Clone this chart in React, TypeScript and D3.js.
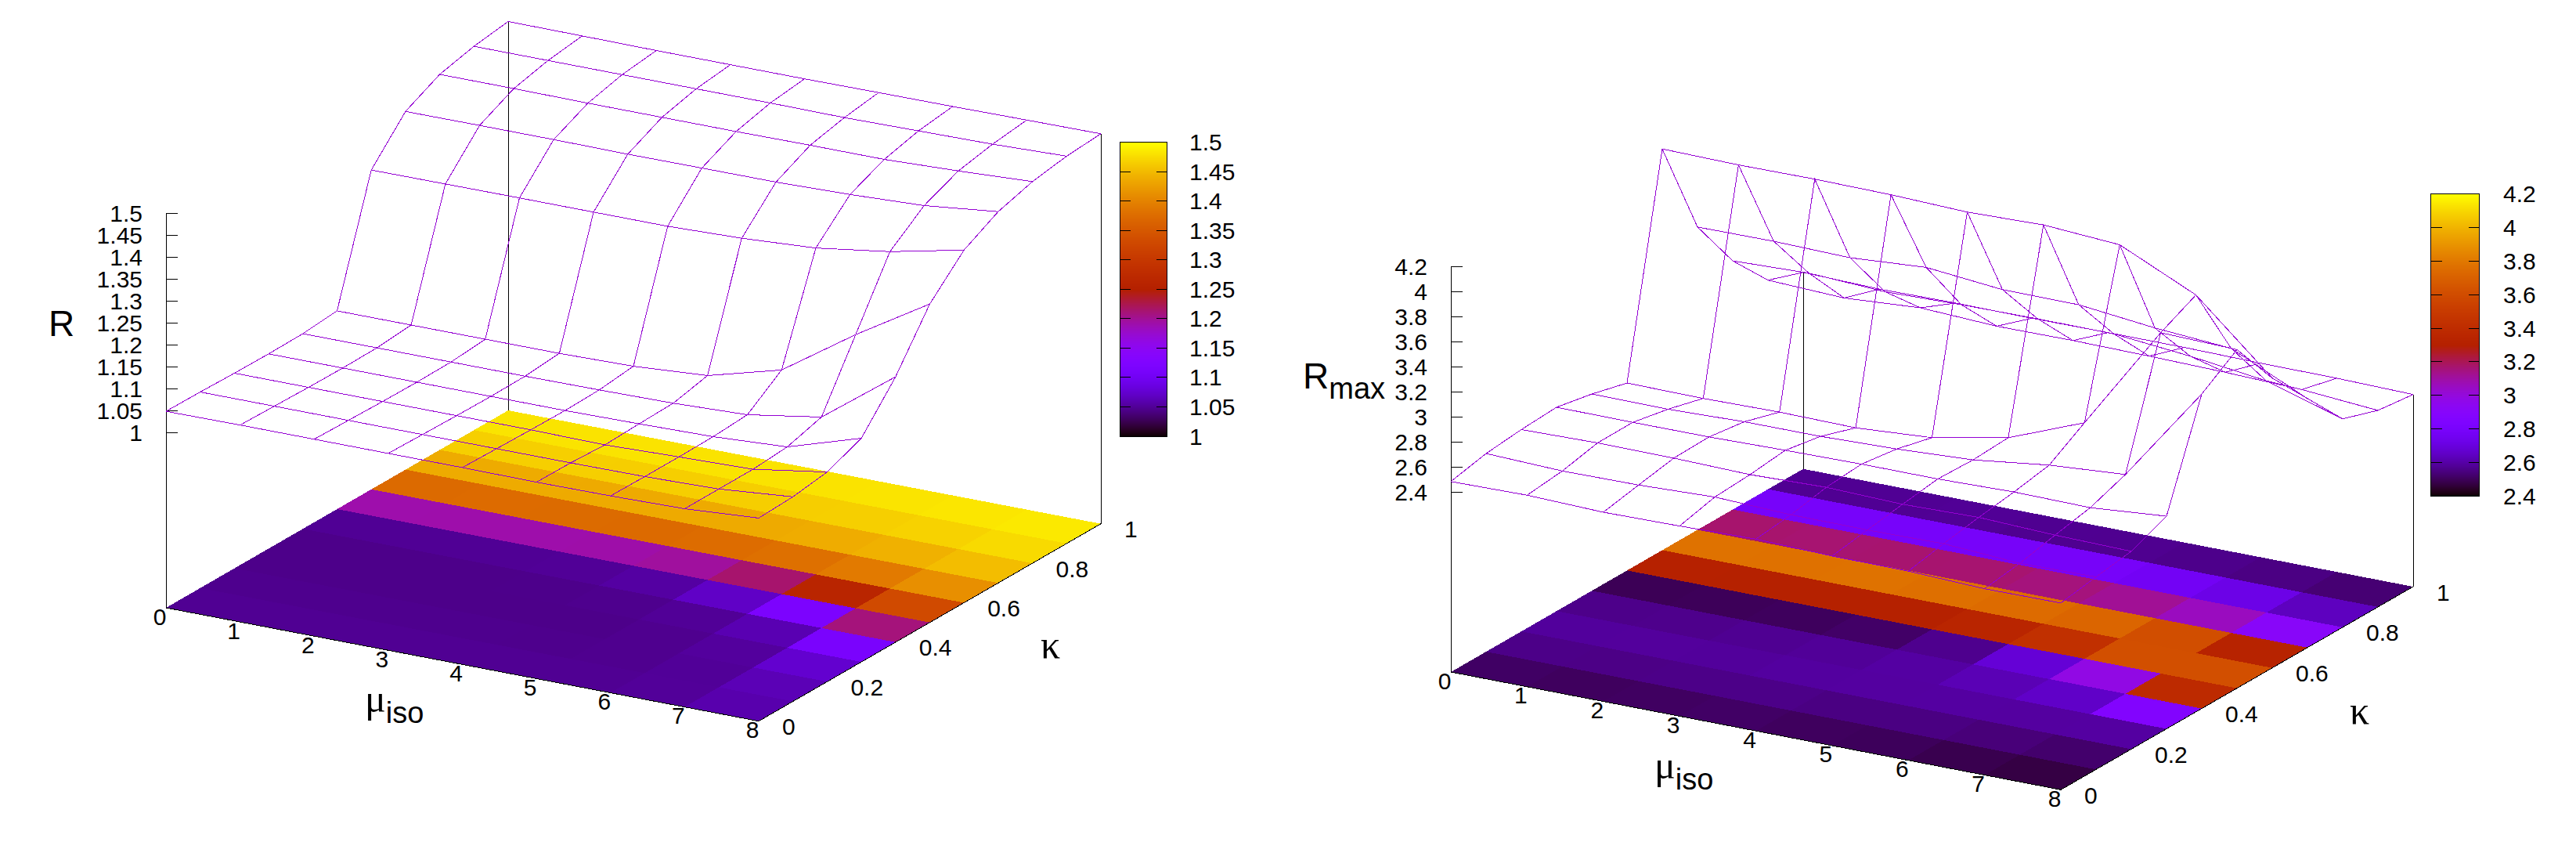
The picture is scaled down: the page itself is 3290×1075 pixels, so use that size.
// App.tsx
import React from "react";
import * as d3 from "d3";

const muValues = [0, 1, 2, 3, 4, 5, 6, 7, 8];
const kappaValues = [0, 0.1, 0.2, 0.3, 0.4, 0.5, 0.6, 0.7, 0.8, 0.9, 1];
const kappaTicks = [0, 0.2, 0.4, 0.6, 0.8, 1];

// left panel, one row per kappa, mu = 0..8
const rK00 = [1.049, 1.05, 1.05, 1.05, 1.05, 1.049, 1.05, 1.053, 1.064];
const rK01 = [1.048, 1.048, 1.048, 1.048, 1.048, 1.048, 1.049, 1.053, 1.0675];
const rK02 = [1.046, 1.046, 1.046, 1.046, 1.046, 1.044, 1.049, 1.053, 1.079];
const rK03 = [1.045, 1.045, 1.045, 1.045, 1.045, 1.047, 1.05, 1.059, 1.111];
const rK04 = [1.046, 1.046, 1.046, 1.046, 1.047, 1.049, 1.055, 1.082, 1.206];
const rK05 = [1.053, 1.053, 1.053, 1.053, 1.056, 1.067, 1.112, 1.225, 1.327];
const rK06 = [1.329, 1.3295, 1.33, 1.33, 1.33, 1.335, 1.345, 1.369, 1.405];
const rK07 = [1.4175, 1.418, 1.418, 1.417, 1.4177, 1.418, 1.422, 1.429, 1.4475];
const rK08 = [1.457, 1.457, 1.456, 1.456, 1.456, 1.457, 1.457, 1.463, 1.471];
const rK09 = [1.476, 1.476, 1.476, 1.476, 1.476, 1.475, 1.477, 1.479, 1.484];
const rK10 = [1.4875, 1.487, 1.486, 1.486, 1.486, 1.487, 1.4876, 1.489, 1.49];
const rTicks = [1, 1.05, 1.1, 1.15, 1.2, 1.25, 1.3, 1.35, 1.4, 1.45, 1.5];

// right panel
const rmaxK00 = [2.4875, 2.496, 2.4775, 2.485, 2.498, 2.48, 2.477, 2.454, 2.4575];
const rmaxK01 = [2.549, 2.527, 2.5325, 2.554, 2.53, 2.526, 2.534, 2.495, 2.504];
const rmaxK02 = [2.578, 2.589, 2.585, 2.571, 2.587, 2.569, 2.582, 2.558, 2.546];
const rmaxK03 = [2.594, 2.591, 2.592, 2.603, 2.61, 2.609, 2.6225, 2.615, 2.664];
const rmaxK04 = [2.5375, 2.534, 2.551, 2.552, 2.569, 2.599, 2.675, 2.7175, 3.477];
const rmaxK05 = [2.463, 2.458, 2.466, 2.458, 2.497, 2.614, 2.851, 3.687, 3.669];
const rmaxK06 = [4.169, 4.159, 4.163, 4.156, 4.135, 4.15, 4.109, 3.826, 3.28];
const rmaxK07 = [3.384, 3.3875, 3.374, 3.414, 3.354, 3.351, 3.283, 3.2375, 2.955];
const rmaxK08 = [2.952, 2.971, 2.94, 2.954, 2.959, 2.956, 2.896, 2.816, 2.631];
const rmaxK09 = [2.636, 2.611, 2.65, 2.621, 2.624, 2.617, 2.605, 2.585, 2.536];
const rmaxK10 = [2.536, 2.52, 2.526, 2.522, 2.525, 2.524, 2.516, 2.513, 2.501];
const rmaxTicks = [2.4, 2.6, 2.8, 3, 3.2, 3.4, 3.6, 3.8, 4, 4.2];

const WIRE = "#9400d3";
const FONT = "'Liberation Sans', Arial, sans-serif";
const SYMBOL_FONT = "'Liberation Serif', 'DejaVu Serif', serif";
const TICK_SIZE = 30;

// gnuplot's default rgbformulae 7,5,15
const palette = (t: number) => {
  const x = Math.max(0, Math.min(1, t));
  const b = Math.max(0, Math.sin(2 * Math.PI * x));
  return d3.rgb(255 * Math.sqrt(x), 255 * x * x * x, 255 * b).formatRgb();
};

const leftPanel = {
  rows: [rK00, rK01, rK02, rK03, rK04, rK05, rK06, rK07, rK08, rK09, rK10],
  ticks: rTicks,
  origin: [212, 776],
  muVec: [757, 144.7],
  kappaVec: [437, -252],
  zRange: [552.6, 272.5],
  bar: { x: 1430, y: 181.5, w: 60.5, h: 375.5, labelX: 1519 },
  label: { x: 62, y: 429 },
  muLabel: { x: 466, y: 909 },
  kappaLabel: { x: 1329, y: 840 },
};

const rightPanel = {
  rows: [rmaxK00, rmaxK01, rmaxK02, rmaxK03, rmaxK04, rmaxK05, rmaxK06, rmaxK07, rmaxK08, rmaxK09, rmaxK10],
  ticks: rmaxTicks,
  origin: [1853, 858],
  muVec: [779, 150.3],
  kappaVec: [450, -259.3],
  zRange: [628.8, 340.8],
  bar: { x: 3104.5, y: 247.5, w: 62, h: 386, labelX: 3197 },
  label: { x: 1664, y: 495.5 },
  muLabel: { x: 2113, y: 994 },
  kappaLabel: { x: 3001, y: 924 },
};

const Surface = ({ panel }: { panel: typeof leftPanel }) => {
  const { rows, ticks, origin, muVec, kappaVec, zRange, bar } = panel;
  const zDomain = d3.extent(ticks) as [number, number];

  const muX = d3.scaleLinear().domain([0, 8]).range([0, muVec[0]]);
  const muY = d3.scaleLinear().domain([0, 8]).range([0, muVec[1]]);
  const kappaX = d3.scaleLinear().domain([0, 1]).range([0, kappaVec[0]]);
  const kappaY = d3.scaleLinear().domain([0, 1]).range([0, kappaVec[1]]);
  const zScale = d3.scaleLinear().domain(zDomain).range(zRange);
  const colour = d3.scaleSequential(palette).domain(zDomain);

  const groundX = (mu: number, k: number) => origin[0] + muX(mu) + kappaX(k);
  const groundY = (mu: number, k: number) => origin[1] + muY(mu) + kappaY(k);
  const surfaceY = (mu: number, k: number, z: number) => zScale(z) + muY(mu) + kappaY(k);

  const line = d3.line<[number, number]>();

  // base heatmap, each cell takes the mean of its four corners
  const cells: { d: string; fill: string }[] = [];
  kappaValues.slice(0, -1).forEach((k, j) => {
    muValues.slice(0, -1).forEach((mu, i) => {
      const k2 = kappaValues[j + 1];
      const mu2 = muValues[i + 1];
      const mean = d3.mean([rows[j][i], rows[j][i + 1], rows[j + 1][i], rows[j + 1][i + 1]]) as number;
      const corners: [number, number][] = [
        [groundX(mu, k), groundY(mu, k)],
        [groundX(mu2, k), groundY(mu2, k)],
        [groundX(mu2, k2), groundY(mu2, k2)],
        [groundX(mu, k2), groundY(mu, k2)],
      ];
      cells.push({ d: line(corners) + "Z", fill: colour(mean) });
    });
  });

  // wire lines along mu and along kappa
  const rowLines = rows.map((row, j) =>
    line(row.map((z, i): [number, number] => [groundX(muValues[i], kappaValues[j]), surfaceY(muValues[i], kappaValues[j], z)]))
  );
  const columnLines = muValues.map((mu, i) =>
    line(kappaValues.map((k, j): [number, number] => [groundX(mu, k), surfaceY(mu, k, rows[j][i])]))
  );

  const corners: [number, number][] = [[8, 0], [8, 1], [0, 1]];
  const barScale = d3.scaleLinear().domain(zDomain).range([bar.y + bar.h, bar.y]);
  const barSteps = d3.range(0, Math.ceil(bar.h));
  const textProps = { fontFamily: FONT, fill: "#000" };

  return (
    <g>
      {/* vertical box edges, up to the surface */}
      {corners.map(([mu, k]) => {
        const i = muValues.indexOf(mu);
        const j = kappaValues.indexOf(k);
        return (
          <line
            key={`${mu}-${k}`}
            x1={groundX(mu, k)}
            x2={groundX(mu, k)}
            y1={groundY(mu, k)}
            y2={surfaceY(mu, k, rows[j][i])}
            stroke="#000"
            shapeRendering="crispEdges"
          />
        );
      })}

      <g shapeRendering="crispEdges">
        {cells.map((c, i) => (
          <path key={i} d={c.d} fill={c.fill} />
        ))}
      </g>

      {/* z axis */}
      <line x1={origin[0]} x2={origin[0]} y1={origin[1]} y2={zRange[1]} stroke="#000" shapeRendering="crispEdges" />
      {ticks.map((t) => (
        <g key={t}>
          <line x1={origin[0]} x2={origin[0] + 15} y1={zScale(t)} y2={zScale(t)} stroke="#000" shapeRendering="crispEdges" />
          <text {...textProps} x={origin[0] - 30} y={zScale(t) + 10.5} fontSize={TICK_SIZE} textAnchor="end">
            {t}
          </text>
        </g>
      ))}

      {/* front edges of the base */}
      <g stroke="#000" shapeRendering="crispEdges">
        <line x1={groundX(0, 0)} y1={groundY(0, 0)} x2={groundX(8, 0)} y2={groundY(8, 0)} />
        <line x1={groundX(8, 0)} y1={groundY(8, 0)} x2={groundX(8, 1)} y2={groundY(8, 1)} />
      </g>

      <g fill="none" stroke={WIRE} strokeWidth={1} shapeRendering="crispEdges">
        {rowLines.map((d, i) => (
          <path key={i} d={d as string} />
        ))}
        {columnLines.map((d, i) => (
          <path key={i} d={d as string} />
        ))}
      </g>

      {muValues.map((mu) => (
        <text
          key={mu}
          {...textProps}
          x={groundX(mu, 0) - 8}
          y={groundY(mu, 0) + 21.5}
          fontSize={TICK_SIZE}
          textAnchor="middle"
        >
          {mu}
        </text>
      ))}
      {kappaTicks.map((k) => (
        <text key={k} {...textProps} x={groundX(8, k) + 30} y={groundY(8, k) + 17.5} fontSize={TICK_SIZE}>
          {k}
        </text>
      ))}

      {/* colour box */}
      <g shapeRendering="crispEdges">
        {barSteps.map((s) => (
          <rect
            key={s}
            x={bar.x}
            y={bar.y + s}
            width={bar.w}
            height={1.5}
            fill={colour(barScale.invert(bar.y + s + 0.5))}
          />
        ))}
        <rect x={bar.x} y={bar.y} width={bar.w} height={bar.h} fill="none" stroke="#000" />
        {ticks.slice(1, -1).map((t) => (
          <g key={t} stroke="#000">
            <line x1={bar.x} x2={bar.x + 14} y1={barScale(t)} y2={barScale(t)} />
            <line x1={bar.x + bar.w - 14} x2={bar.x + bar.w} y1={barScale(t)} y2={barScale(t)} />
          </g>
        ))}
      </g>
      {ticks.map((t) => (
        <text key={t} {...textProps} x={bar.labelX} y={barScale(t) + 10.5} fontSize={TICK_SIZE}>
          {t}
        </text>
      ))}
    </g>
  );
};

const subProps = { fontFamily: FONT, fontSize: 38 };
const symbolProps = { fontFamily: SYMBOL_FONT, fontSize: 50 };

const App = () => (
  <svg width={3290} height={1075} style={{ position: "absolute", left: 0, top: 0, background: "#fff" }}>
    <Surface panel={leftPanel} />
    <Surface panel={rightPanel} />

    <g fontFamily={FONT} fontSize={46} fill="#000">
      <text x={leftPanel.label.x} y={leftPanel.label.y}>R</text>
      <text x={rightPanel.label.x} y={rightPanel.label.y}>
        R<tspan dy={13} {...subProps}>max</tspan>
      </text>
      <text {...symbolProps} x={leftPanel.muLabel.x} y={leftPanel.muLabel.y}>
        μ<tspan dy={14} {...subProps}>iso</tspan>
      </text>
      <text {...symbolProps} x={rightPanel.muLabel.x} y={rightPanel.muLabel.y}>
        μ<tspan dy={14} {...subProps}>iso</tspan>
      </text>
      <text {...symbolProps} x={leftPanel.kappaLabel.x} y={leftPanel.kappaLabel.y}>κ</text>
      <text {...symbolProps} x={rightPanel.kappaLabel.x} y={rightPanel.kappaLabel.y}>κ</text>
    </g>
  </svg>
);

export default App;
